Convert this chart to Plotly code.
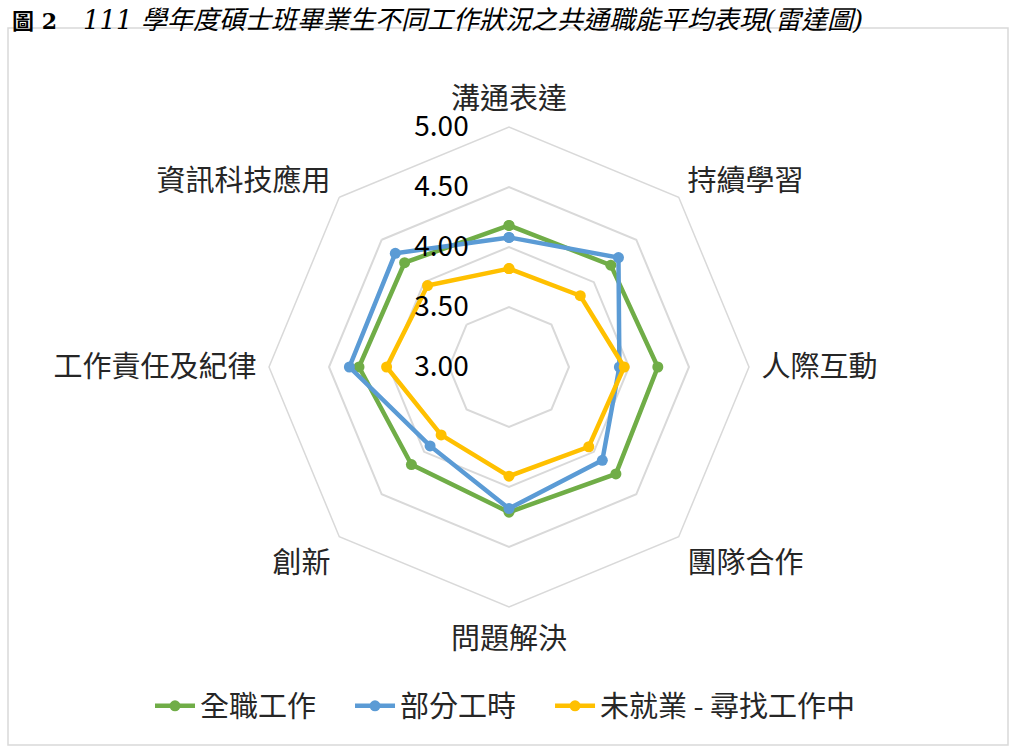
#!/usr/bin/env python
"""
Radar chart of common competency averages by work status (111 master graduates)
"""

import plotly.graph_objects as go

categories = ["溝通表達", "持續學習", "人際互動", "團隊合作",
              "問題解決", "創新", "工作責任及紀律", "資訊科技應用"]
full_time = [4.18, 4.20, 4.24, 4.26, 4.21, 4.15, 4.25, 4.23]
part_time = [4.08, 4.29, 3.92, 4.10, 4.18, 3.93, 4.33, 4.34]
job_seeking = [3.82, 3.84, 3.96, 3.94, 3.91, 3.80, 4.02, 3.96]
series_names = ["全職工作", "部分工時", "未就業 - 尋找工作中"]
colors = ["#70AD47", "#5B9BD5", "#FFC000"]
tick_vals = [3.0, 3.5, 4.0, 4.5, 5.0]
tick_text = ["3.00", "3.50", "4.00", "4.50", "5.00"]

W, H = 1016, 751
FONT = "Noto Sans CJK TC"


def main():
    """
    Build the radar chart
    """
    fig = go.Figure()
    for name, vals, col in zip(series_names, [full_time, part_time, job_seeking], colors):
        fig.add_trace(go.Scatterpolar(
            r=vals + vals[:1], theta=categories + categories[:1],
            # em space at the end widens the gap between legend entries
            name=name + "\u2003", mode="lines+markers",
            line=dict(color=col, width=4.5),
            marker=dict(color=col, size=11)))

    cx, cy, rad = 509, 367, 240
    fig.update_layout(
        width=W, height=H,
        margin=dict(l=0, r=0, t=0, b=0, autoexpand=False),
        paper_bgcolor="white",
        font=dict(family=FONT, color="#262626", size=29),
        polar=dict(
            domain=dict(x=[(cx - rad) / W, (cx + rad) / W],
                        y=[(H - cy - rad) / H, (H - cy + rad) / H]),
            gridshape="linear",
            bgcolor="white",
            radialaxis=dict(range=[3, 5], tickvals=tick_vals, ticktext=tick_text,
                            angle=90, tickangle=90, side="counterclockwise",
                            showline=False, gridcolor="#d9d9d9", gridwidth=1.5,
                            ticks="outside", ticklen=30, tickcolor="rgba(0,0,0,0)",
                            tickfont=dict(size=28, color="#000000")),
            angularaxis=dict(direction="clockwise", rotation=90,
                             showgrid=False, showline=True,
                             linecolor="#d9d9d9", linewidth=1.5,
                             ticks="outside", ticklen=6, tickcolor="rgba(0,0,0,0)",
                             tickfont=dict(size=29, color="#262626"))),
        legend=dict(orientation="h", x=150 / W, xanchor="left",
                    y=(H - 706) / H, yanchor="middle",
                    font=dict(size=29, color="#262626"), itemwidth=40),
        shapes=[dict(type="rect", xref="paper", yref="paper",
                     x0=8 / W, x1=1008 / W, y0=(H - 745) / H, y1=(H - 28) / H,
                     line=dict(color="#d9d9d9", width=1.5))],
        annotations=[dict(xref="paper", yref="paper", x=10 / W, y=(H - 20) / H,
                          xanchor="left", yanchor="middle", showarrow=False,
                          text="<b><span style='font-size:22px'>圖 2</span></b>\u3000"
                               "<i>111 學年度碩士班畢業生不同工作狀況之共通職能平均表現(雷達圖)</i>",
                          font=dict(family="DejaVu Serif, " + FONT, size=26, color="#000000"))])

    # drop the browser's default body margin so the figure sits at 0,0
    fig.write_html("out.html", config={"displayModeBar": False},
                   post_script="document.body.style.margin='0px';")


if __name__ == '__main__':
    main()
